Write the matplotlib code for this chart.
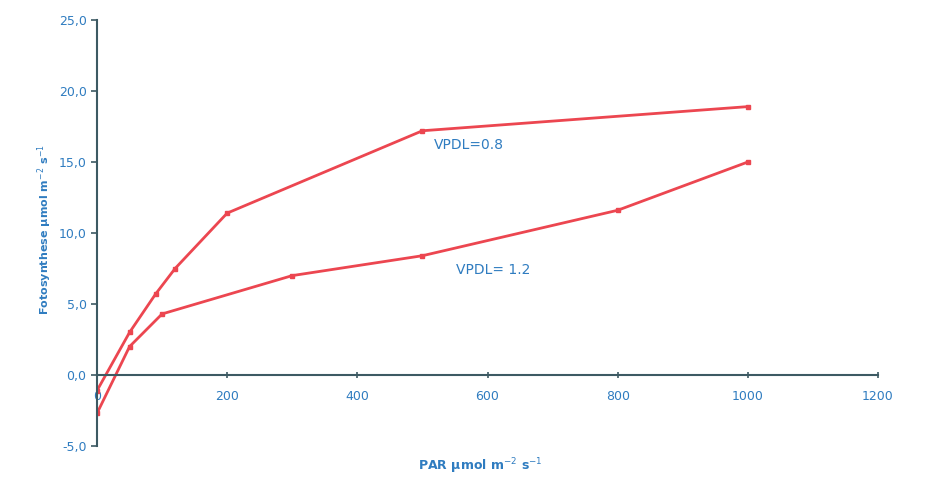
import matplotlib
matplotlib.use("Agg")
import matplotlib.pyplot as plt
from matplotlib.ticker import FuncFormatter

# light response curves
par_08 = [0, 50, 90, 120, 200, 500, 1000]
foto_08 = [-1.1, 3.0, 5.7, 7.5, 11.4, 17.2, 18.9]

par_12 = [0, 50, 100, 300, 500, 800, 1000]
foto_12 = [-2.7, 2.0, 4.3, 7.0, 8.4, 11.6, 15.0]

x_ticks = [0, 200, 400, 600, 800, 1000, 1200]
y_ticks = [-5, 0, 5, 10, 15, 20, 25]

line_col = "#ec4650"
text_col = "#2f7cc0"
axis_col = "#3d5a63"

fig = plt.figure(figsize=(9.35, 4.8), dpi=100)
ax = fig.add_axes([97 / 935, 1 - 446 / 480, (878 - 97) / 935, (446 - 20) / 480])

ax.plot(par_08, foto_08, "-", color=line_col, lw=2, marker="s", ms=3.5)
ax.plot(par_12, foto_12, "-", color=line_col, lw=2, marker="s", ms=3.5)

ax.text(517, 16.2, "VPDL=0.8", color=text_col, fontsize=10, va="center")
ax.text(551, 7.4, "VPDL= 1.2", color=text_col, fontsize=10, va="center")

ax.set_xlim(0, 1200)
ax.set_ylim(-5, 25)
ax.set_xticks(x_ticks)
ax.set_yticks(y_ticks)
ax.yaxis.set_major_formatter(FuncFormatter(lambda v, p: f"{v:.1f}".replace(".", ",")))

# x axis crosses at zero
ax.spines["bottom"].set_position(("data", 0))
ax.spines["top"].set_visible(False)
ax.spines["right"].set_visible(False)
for s in ("left", "bottom"):
    ax.spines[s].set_color(axis_col)
    ax.spines[s].set_linewidth(1.5)

ax.tick_params(axis="both", colors=axis_col, labelcolor=text_col, labelsize=9, width=1.2)
ax.tick_params(axis="x", direction="inout", length=5, pad=8)
ax.tick_params(axis="y", direction="out", length=4)

fig.text(480 / 935, 1 - 466 / 480, "PAR µmol m$^{-2}$ s$^{-1}$", color=text_col,
         fontsize=9, fontweight="bold", ha="center", va="center")
fig.text(45 / 935, 1 - 230 / 480, "Fotosynthese µmol m$^{-2}$ s$^{-1}$", color=text_col,
         fontsize=8, fontweight="bold", ha="center", va="center", rotation=90)

fig.savefig("out.png", dpi=100)
